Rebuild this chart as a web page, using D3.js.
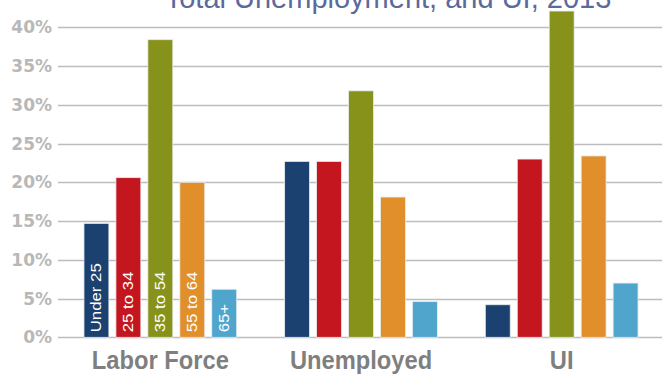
<!DOCTYPE html>
<html>
<head>
<meta charset="utf-8">
<script src="https://cdn.jsdelivr.net/npm/d3@7"></script>
<style>
  body { margin: 0; background: #fff; }
  svg { display: block; }
</style>
</head>
<body>
<div id="chart"></div>
<script>
// Data
const groups = ["Labor Force", "Unemployed", "UI"];
const ageGroups = ["Under 25", "25 to 34", "35 to 54", "55 to 64", "65+"];
const laborForce = [14.7, 20.6, 38.4, 20.0, 6.2];
const unemployed = [22.7, 22.7, 31.8, 18.1, 4.6];
const ui = [4.2, 23.0, 42.1, 23.4, 7.0];
const yTicks = [0, 5, 10, 15, 20, 25, 30, 35, 40];
const barColors = ["#1a4170", "#c4161f", "#87921a", "#e08f2b", "#50a5cd"];
const title = "Total Unemployment, and UI, 2013";

const seriesByGroup = [laborForce, unemployed, ui];

const wSvg = 662, hSvg = 374;
const padLeft = 58, padRight = 662, padTop = 27.3, padBottom = 337.3;

const svg = d3.select("#chart").append("svg")
    .attr("width", wSvg)
    .attr("height", hSvg);

// Skalor
const y = d3.scaleLinear().domain([0, 40]).range([padBottom, padTop]);
const x0 = d3.scaleBand().domain(groups).range([60, 662]);
const x1 = d3.scaleBand().domain(ageGroups).range([0, x0.bandwidth()])
    .paddingInner(0.22).paddingOuter(0.75);
const color = d3.scaleOrdinal().domain(ageGroups).range(barColors);

// Titel (avklippt upptill)
svg.append("text")
    .attr("x", 388)
    .attr("y", 8)
    .attr("text-anchor", "middle")
    .attr("font-family", "'Liberation Sans', Arial, sans-serif")
    .attr("font-size", 29)
    .attr("fill", "#5b6a9c")
    .text(title);

// Rutnät
svg.append("g")
    .selectAll("line")
    .data(yTicks)
    .join("line")
    .attr("x1", padLeft)
    .attr("x2", padRight)
    .attr("y1", d => Math.round(y(d)) + 0.5)
    .attr("y2", d => Math.round(y(d)) + 0.5)
    .attr("stroke", "#bdbdbd")
    .attr("stroke-width", 1.4);

// Y-axel
const yAxis = svg.append("g")
    .attr("transform", `translate(${padLeft}, 0)`)
    .call(d3.axisLeft(y).tickValues(yTicks).tickSize(0).tickPadding(6).tickFormat(d => d + "%"));
yAxis.select(".domain").remove();
yAxis.selectAll("text")
    .attr("font-family", "'DejaVu Sans', sans-serif")
    .attr("font-weight", "bold")
    .attr("font-size", 17)
    .attr("fill", "#b8b8b8");

// Staplar
const gGroups = svg.append("g")
    .selectAll("g")
    .data(groups)
    .join("g")
    .attr("transform", d => `translate(${x0(d)}, 0)`);

gGroups.selectAll("rect")
    .data((g, i) => ageGroups.map((a, j) => ({ age: a, value: seriesByGroup[i][j] })))
    .join("rect")
    .attr("x", d => x1(d.age))
    .attr("y", d => y(d.value))
    .attr("width", x1.bandwidth())
    .attr("height", d => y(0) - y(d.value))
    .attr("fill", d => color(d.age))
    .attr("stroke", "#e8ecef")
    .attr("stroke-width", 0.8);

// Etiketter i första gruppen (utdragna på höjden som i originalet)
svg.append("g")
    .selectAll("text")
    .data(ageGroups)
    .join("text")
    .attr("transform", d => `translate(${x0(groups[0]) + x1(d) + x1.bandwidth() / 2 + 5}, ${padBottom - 5}) rotate(-90) scale(1.2, 1)`)
    .attr("font-family", "'Liberation Sans', Arial, sans-serif")
    .attr("font-size", 14)
    .attr("fill", "#fff")
    .text(d => d);

// X-axel etiketter
svg.append("g")
    .selectAll("text")
    .data(groups)
    .join("text")
    .attr("transform", d => `translate(${x0(d) + x0.bandwidth() / 2}, 369) scale(0.93, 1)`)
    .attr("text-anchor", "middle")
    .attr("font-family", "'Liberation Sans', Arial, sans-serif")
    .attr("font-weight", "bold")
    .attr("font-size", 25.5)
    .attr("fill", "#7f7f7f")
    .text(d => d);
</script>
</body>
</html>
